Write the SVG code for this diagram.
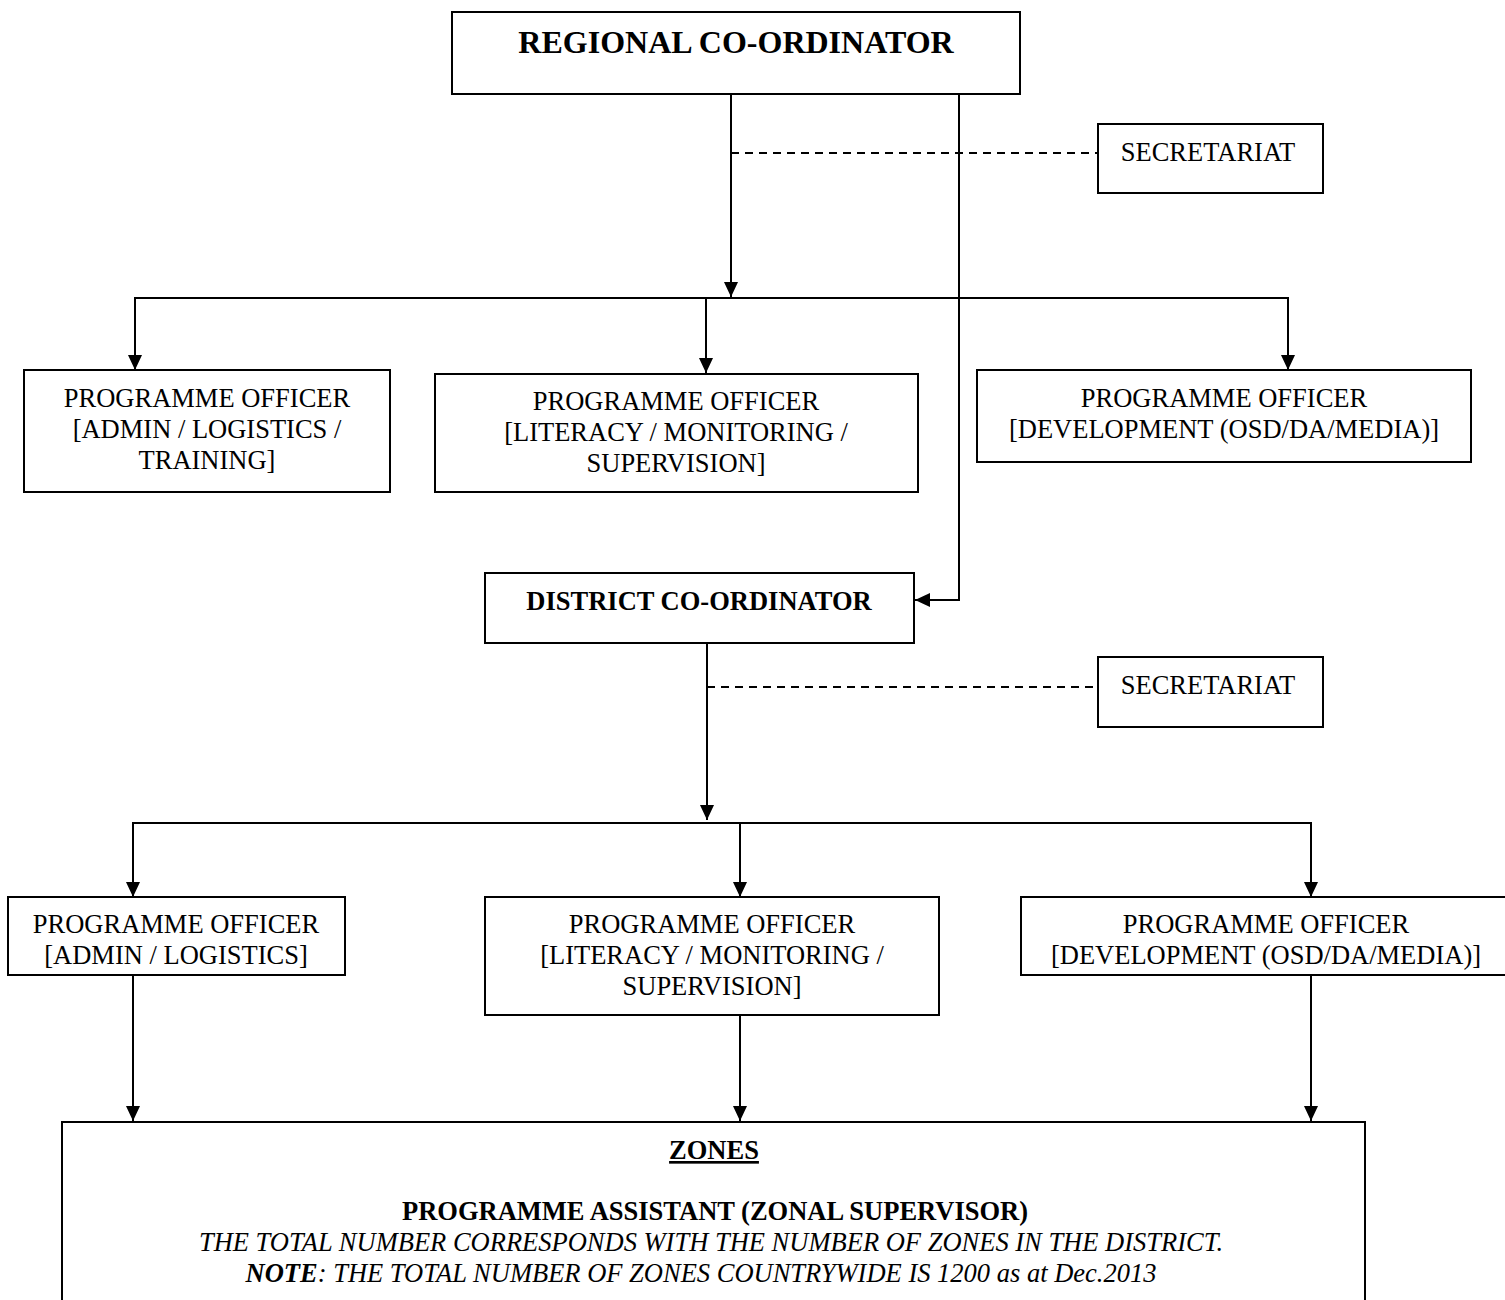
<svg xmlns="http://www.w3.org/2000/svg" width="1505" height="1300" viewBox="0 0 1505 1300">
<defs>
<marker id="arr" markerUnits="userSpaceOnUse" markerWidth="16" markerHeight="16" viewBox="0 0 16 16" refX="15" refY="8" orient="auto">
<path d="M0,1 L15,8 L0,15 Z" fill="#000"/>
</marker>
<style>
.box{fill:#fff;stroke:#000;stroke-width:2}
.ln{fill:none;stroke:#000;stroke-width:2}
.dash{fill:none;stroke:#000;stroke-width:2;stroke-dasharray:8,6}
text{font-family:"Liberation Serif","Times New Roman",serif;font-size:26.5px;fill:#000;text-anchor:middle}
.b{font-weight:bold}
.i{font-style:italic}
</style>
</defs>
<rect width="1505" height="1300" fill="#fff"/>
<g id="connectors">
<line class="dash" x1="731" y1="153" x2="1098" y2="153"/>
<line class="dash" x1="707" y1="687" x2="1098" y2="687"/>
<line class="ln" x1="731" y1="94" x2="731" y2="297" marker-end="url(#arr)"/>
<polyline class="ln" points="959,94 959,600 915,600" marker-end="url(#arr)"/>
<line class="ln" x1="134" y1="298" x2="1289" y2="298"/>
<line class="ln" x1="135" y1="298" x2="135" y2="370" marker-end="url(#arr)"/>
<line class="ln" x1="706" y1="298" x2="706" y2="373" marker-end="url(#arr)"/>
<line class="ln" x1="1288" y1="298" x2="1288" y2="370" marker-end="url(#arr)"/>
<line class="ln" x1="707" y1="643" x2="707" y2="820" marker-end="url(#arr)"/>
<line class="ln" x1="132" y1="823" x2="1312" y2="823"/>
<line class="ln" x1="133" y1="823" x2="133" y2="897" marker-end="url(#arr)"/>
<line class="ln" x1="740" y1="823" x2="740" y2="897" marker-end="url(#arr)"/>
<line class="ln" x1="1311" y1="823" x2="1311" y2="897" marker-end="url(#arr)"/>
<line class="ln" x1="133" y1="975" x2="133" y2="1121" marker-end="url(#arr)"/>
<line class="ln" x1="740" y1="1015" x2="740" y2="1121" marker-end="url(#arr)"/>
<line class="ln" x1="1311" y1="975" x2="1311" y2="1121" marker-end="url(#arr)"/>
</g>
<g id="regional">
<rect class="box" x="452" y="12" width="568" height="82"/>
<text class="b" x="736" y="53" style="font-size:32px">REGIONAL CO-ORDINATOR</text>
</g>
<g id="secretariat1">
<rect class="box" x="1098" y="124" width="225" height="69"/>
<text x="1208" y="161">SECRETARIAT</text>
</g>
<g id="po-admin-reg">
<rect class="box" x="24" y="370" width="366" height="122"/>
<text x="207" y="407">PROGRAMME OFFICER</text>
<text x="207" y="438">[ADMIN / LOGISTICS /</text>
<text x="207" y="469">TRAINING]</text>
</g>
<g id="po-literacy-reg">
<rect class="box" x="435" y="374" width="483" height="118"/>
<text x="676" y="410">PROGRAMME OFFICER</text>
<text x="676" y="441">[LITERACY / MONITORING /</text>
<text x="676" y="472">SUPERVISION]</text>
</g>
<g id="po-dev-reg">
<rect class="box" x="977" y="370" width="494" height="92"/>
<text x="1224" y="407">PROGRAMME OFFICER</text>
<text x="1224" y="438">[DEVELOPMENT (OSD/DA/MEDIA)]</text>
</g>
<g id="district">
<rect class="box" x="485" y="573" width="429" height="70"/>
<text class="b" x="699" y="610">DISTRICT CO-ORDINATOR</text>
</g>
<g id="secretariat2">
<rect class="box" x="1098" y="657" width="225" height="70"/>
<text x="1208" y="694">SECRETARIAT</text>
</g>
<g id="po-admin-dist">
<rect class="box" x="8" y="897" width="337" height="78"/>
<text x="176" y="933">PROGRAMME OFFICER</text>
<text x="176" y="964">[ADMIN / LOGISTICS]</text>
</g>
<g id="po-literacy-dist">
<rect class="box" x="485" y="897" width="454" height="118"/>
<text x="712" y="933">PROGRAMME OFFICER</text>
<text x="712" y="964">[LITERACY / MONITORING /</text>
<text x="712" y="995">SUPERVISION]</text>
</g>
<g id="po-dev-dist">
<rect class="box" x="1021" y="897" width="500" height="78"/>
<text x="1266" y="933">PROGRAMME OFFICER</text>
<text x="1266" y="964">[DEVELOPMENT (OSD/DA/MEDIA)]</text>
</g>
<g id="zones">
<rect class="box" x="62" y="1122" width="1303" height="200"/>
<text class="b" x="714" y="1159" text-decoration="underline">ZONES</text>
<text class="b" x="715" y="1220">PROGRAMME ASSISTANT (ZONAL SUPERVISOR)</text>
<text class="i" x="711" y="1251">THE TOTAL NUMBER CORRESPONDS WITH THE NUMBER OF ZONES IN THE DISTRICT.</text>
<text class="i" x="701" y="1282"><tspan class="b">NOTE</tspan>: THE TOTAL NUMBER OF ZONES COUNTRYWIDE IS 1200 as at Dec.2013</text>
</g>
</svg>
